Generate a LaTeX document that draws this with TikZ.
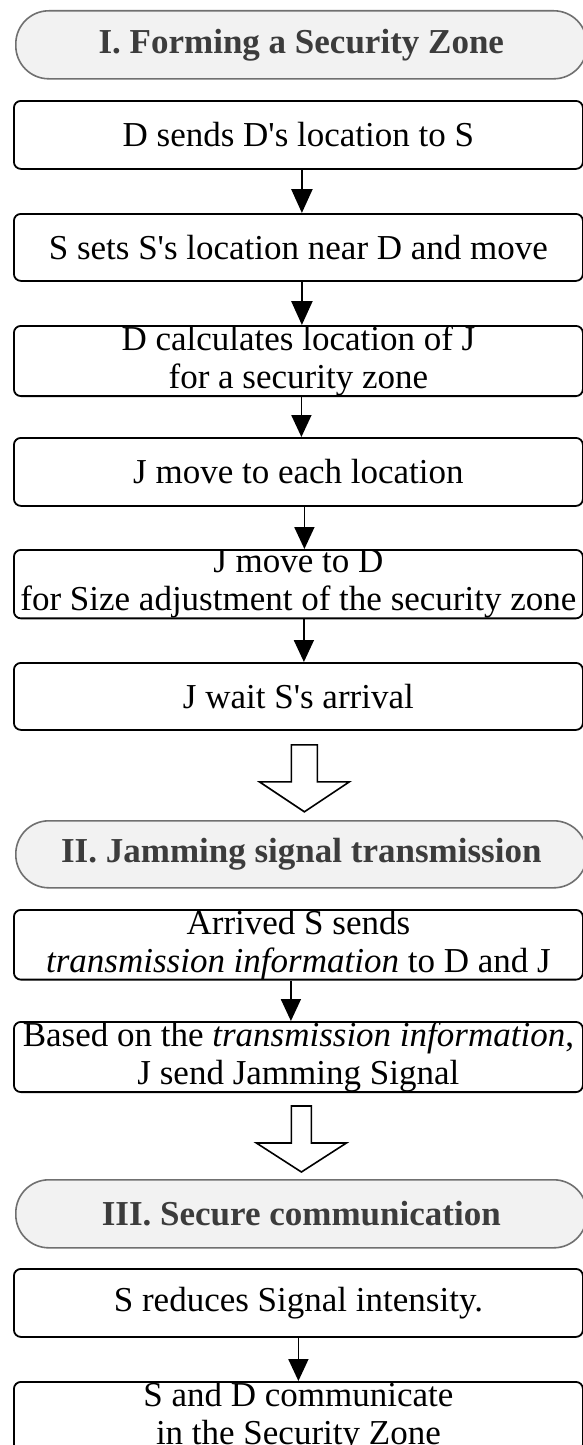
\documentclass[tikz,border=0pt]{standalone}
\usepackage{fontspec}
\setmainfont{Liberation Serif}[Ligatures=TeXOff]
\usetikzlibrary{arrows.meta,calc}
\definecolor{termfill}{HTML}{F2F2F2}
\definecolor{termline}{HTML}{707070}
\definecolor{termtext}{HTML}{3C3C3C}
\begin{document}
\begin{tikzpicture}[x=1pt,y=-1pt,
  stepbox/.style={draw=black, line width=1.8pt, rounded corners=7pt,
    minimum width=569pt, minimum height=68pt, inner sep=0pt, align=center,
    anchor=north west, font=\fontsize{35}{38}\selectfont},
  term/.style={draw=termline, fill=termfill, line width=1.6pt, rounded corners=33pt,
    minimum width=571pt, minimum height=68pt, inner sep=0pt, align=center,
    anchor=north west, text=termtext, font=\fontsize{35}{38}\selectfont\bfseries},
  boldarrow/.style={line width=2.6pt, -{Triangle[width=21pt,length=24pt]}},
  flowarrow/.style={line width=1.8pt, -{Triangle[width=20pt,length=22pt]}},
  hollowarrow/.style={draw=black, fill=white, line width=1.6pt, line join=miter}]
\useasboundingbox (0,0) rectangle (583,1445);
\fill[white] (0,0) rectangle (583,1445);

% Phase I
\node[term] (t1) at (15,10) {I. Forming a Security Zone};
\node[stepbox] (b1) at (13,100) {D sends D's location to S};
\node[stepbox, minimum height=67pt] (b2) at (13,213) {S sets S's location near D and move};
\node[stepbox] (b3) at (13,325) {D calculates location of J\\for a security zone};
\node[stepbox] (b4) at (13,437) {J move to each location};
\node[stepbox] (b5) at (13,549) {J move to D\\for Size adjustment of the security zone};
\node[stepbox, minimum height=67pt] (b6) at (13,662) {J wait S's arrival};

\draw[boldarrow] ([xshift=3.5pt]b1.south) -- ([xshift=3.5pt]b2.north);
\draw[boldarrow] ([xshift=3.5pt]b2.south) -- ([xshift=3.5pt]b3.north);
\draw[flowarrow] ([xshift=3pt]b3.south) -- ([xshift=3pt]b4.north);
\draw[flowarrow] ([xshift=6pt]b4.south) -- ([xshift=6pt]b5.north);
\draw[flowarrow] ([xshift=5.5pt]b5.south) -- ([xshift=5.5pt]b6.north);

% hollow arrow into phase II
\coordinate (h1) at ($(b6.south)+(6,14)$);
\draw[hollowarrow] (h1) ++(-13,0) -- ++(26,0) -- ++(0,37) -- ++(32,0)
  -- ++(-45,30) -- ++(-45,-30) -- ++(32,0) -- cycle;

% Phase II
\node[term, minimum height=67pt] (t2) at (15,820) {II. Jamming signal transmission};
\node[stepbox] (b7) at (13,909) {Arrived S sends\\\textit{transmission information} to D and J};
\node[stepbox, minimum height=67pt] (b8) at (13,1021) {Based on the \textit{transmission information},\\J send Jamming Signal};
\draw[flowarrow] ([xshift=-7.5pt]b7.south) -- ([xshift=-7.5pt]b8.north);

% hollow arrow into phase III
\coordinate (h2) at ($(b8.south)+(3,13)$);
\draw[hollowarrow] (h2) ++(-10,0) -- ++(20,0) -- ++(0,37) -- ++(35,0)
  -- ++(-45,29) -- ++(-45,-29) -- ++(35,0) -- cycle;

% Phase III
\node[term] (t3) at (15,1179) {III. Secure communication};
\node[stepbox] (b9) at (13,1268) {S reduces Signal intensity.};
\node[stepbox] (b10) at (13,1381) {S and D communicate\\in the Security Zone};
\draw[flowarrow] (b9.south) -- (b10.north);
\end{tikzpicture}
\end{document}
